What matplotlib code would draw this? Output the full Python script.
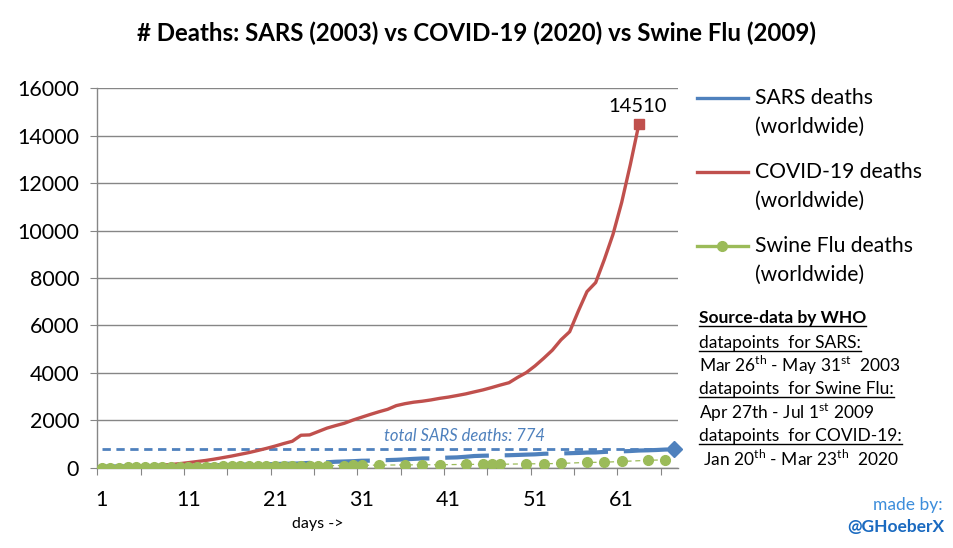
import matplotlib
matplotlib.use("Agg")
import matplotlib.pyplot as plt
from matplotlib.lines import Line2D

plt.rcParams["font.family"] = "Lato"
plt.rcParams["mathtext.fontset"] = "custom"
plt.rcParams["mathtext.rm"] = "Lato"

# cumulative deaths (WHO), day 1 = first day of each period
# SARS: Mar 26 - May 31 2003
sars_deaths = [49, 53, 54, 58, 62, 62, 79, 79, 89, 90, 98, 103, 106, 107, 111,
               116, 119, 144, 144, 144, 154, 165, 169, 182, 204, 217, 229, 251,
               263, 274, 293, 297, 306, 321, 333, 352, 372, 389, 391, 411, 425,
               435, 461, 493, 505, 514, 519, 526, 538, 552, 563, 587, 598, 602,
               611, 622, 638, 643, 666, 682, 690, 703, 724, 733, 746, 765, 774]
# COVID-19: Jan 20 - Mar 23 2020
covid_deaths = [6, 6, 17, 25, 41, 56, 80, 106, 132, 170, 213, 259, 305, 362,
                426, 491, 565, 638, 724, 813, 910, 1018, 1115, 1369, 1383, 1526,
                1669, 1775, 1873, 2009, 2129, 2247, 2359, 2462, 2618, 2700, 2762,
                2804, 2858, 2924, 2977, 3043, 3112, 3198, 3281, 3380, 3486, 3584,
                3809, 4012, 4292, 4613, 4955, 5393, 5735, 6606, 7426, 7807, 8778,
                9840, 11184, 12784, 14510]
# Swine Flu: Apr 27 - Jul 1 2009 (only days with a WHO update)
swine_days = list(range(1, 28)) + [29, 30, 31, 33, 36, 38, 40, 43, 45, 46, 47,
                                   50, 52, 54, 57, 59, 61, 64, 66]
swine_deaths = [7, 7, 8, 9, 11, 16, 19, 25, 26, 31, 44, 45, 46, 48, 53, 56, 61,
                65, 65, 67, 69, 72, 80, 85, 86, 87, 87, 92, 95, 100, 110, 117,
                125, 125, 139, 141, 144, 144, 163, 167, 180, 223, 231, 263, 311,
                332]
sars_total = 774

sars_days = list(range(1, len(sars_deaths) + 1))
covid_days = list(range(1, len(covid_deaths) + 1))

blue = "#4F81BD"
red = "#C0504D"
green = "#9BBB59"
gray = "#868686"

W, H = 954, 548
fig = plt.figure(figsize=(W / 100, H / 100), dpi=100)
ax = fig.add_axes([97.3 / W, 1 - 467.7 / H, (678 - 97.3) / W, (467.7 - 88.3) / H])

# series
ax.plot(sars_days, sars_deaths, color=blue, lw=3, ls=(3.3, (10.5, 3.8)), zorder=2)
ax.plot(sars_days[-1], sars_deaths[-1], marker="D", ms=8.5, color=blue, zorder=2,
        clip_on=False)
ax.hlines(sars_total, 1, len(sars_deaths), colors=blue, lw=2, linestyles=(0, (3, 2)), zorder=2)
ax.plot(covid_days, covid_deaths, color=red, lw=2.4, zorder=3)
ax.plot(covid_days[-1], covid_deaths[-1], marker="s", ms=7.5, color=red, zorder=3)
ax.plot(swine_days, swine_deaths, color=green, lw=0.9, ls=(0, (4, 3)),
        marker="o", ms=7, zorder=4)

ax.annotate(str(covid_deaths[-1]), (covid_days[-1], covid_deaths[-1]),
            xytext=(-1, 12), textcoords="offset points", ha="center", va="center",
            fontsize=14.5)
ax.text(33.6, 1335, "total SARS deaths: %d" % sars_total, color=blue,
        style="italic", fontsize=12, va="center")

# axes
ax.set_xlim(0.5, 67.5)
ax.set_ylim(0, 16000)
ax.set_yticks(range(0, 16001, 2000))
ax.yaxis.grid(True, color=gray, lw=1)
ax.set_axisbelow(True)
for s in ["top", "right"]:
    ax.spines[s].set_visible(False)
for s in ["left", "bottom"]:
    ax.spines[s].set_color(gray)
    ax.spines[s].set_linewidth(1)
ax.tick_params(axis="y", length=5, color=gray, labelsize=15.5, pad=8)
ax.set_xticks([0.5 + 5 * i for i in range(14)])
ax.set_xticklabels([""] * 14)
ax.tick_params(axis="x", which="major", length=5, color=gray)
ax.set_xticks([1, 11, 21, 31, 41, 51, 61], minor=True)
ax.set_xticklabels(["1", "11", "21", "31", "41", "51", "61"], minor=True)
ax.tick_params(axis="x", which="minor", length=0, labelsize=15.5, pad=16)

fig.text(0.5, 1 - 33 / H, "# Deaths: SARS (2003) vs COVID-19 (2020) vs Swine Flu (2009)",
         ha="center", va="center", fontsize=17.3, fontweight="bold")
fig.text(318 / W, 1 - 524 / H, "days ->", ha="center", va="center", fontsize=11.5)

# legend
legend_items = [(blue, "SARS deaths", False), (red, "COVID-19 deaths", False),
                (green, "Swine Flu deaths", True)]
for i, (col, name, dot) in enumerate(legend_items):
    yy = 1 - (98 + 74 * i) / H
    fig.add_artist(Line2D([697 / W, 722.5 / W, 748 / W], [yy] * 3, color=col, lw=2.4,
                          marker="o" if dot else None, markevery=[1], ms=7,
                          transform=fig.transFigure))
    fig.text(755 / W, yy, name, va="center", fontsize=15.2)
    fig.text(755 / W, yy - 29 / H, "(worldwide)", va="center", fontsize=15.2)

# source notes
notes = [
    ("Source-data by WHO", True, True),
    ("datapoints  for SARS:", False, True),
    (r"Mar 26$^{\mathrm{th}}$ - May 31$^{\mathrm{st}}$  2003", False, False),
    ("datapoints  for Swine Flu:", False, True),
    (r"Apr 27th - Jul 1$^{\mathrm{st}}$ 2009", False, False),
    ("datapoints  for COVID-19:", False, True),
    (r" Jan 20$^{\mathrm{th}}$ - Mar 23$^{\mathrm{th}}$  2020", False, False),
]
note_y = [318.3, 342.7, 365.7, 389.3, 412.7, 436, 459.3]
fig.canvas.draw()
renderer = fig.canvas.get_renderer()
for (txt, bold, under), y in zip(notes, note_y):
    t = fig.text(699 / W, 1 - y / H, txt, va="center", fontsize=12.5,
                 fontweight="bold" if bold else "normal")
    if under:
        bb = t.get_window_extent(renderer)
        fig.add_artist(Line2D([bb.x0 / W, bb.x1 / W], [1 - (y + 8) / H] * 2,
                              color="black", lw=1, transform=fig.transFigure))

fig.text(943 / W, 1 - 505 / H, "made by:", ha="right", va="center",
         fontsize=12.5, color="#3C8DDB")
fig.text(944 / W, 1 - 527 / H, "@GHoeberX", ha="right", va="center",
         fontsize=12.5, fontweight="bold", color="#1A6AC0")

fig.savefig("out.png", dpi=100)
